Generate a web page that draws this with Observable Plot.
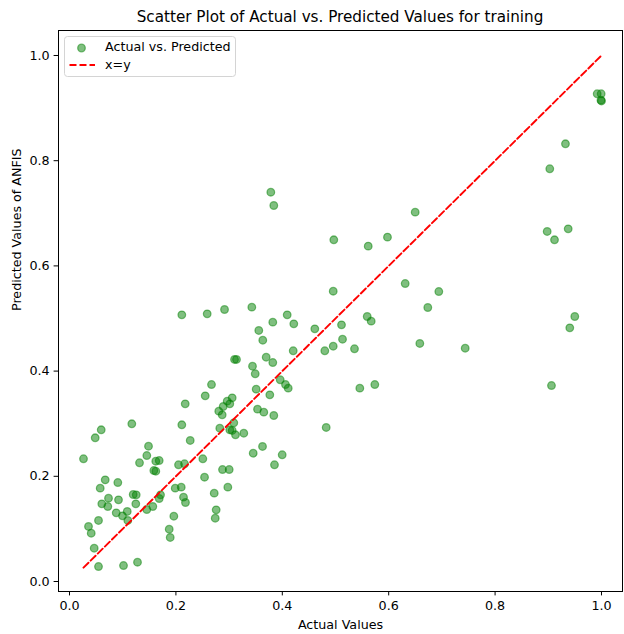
<!DOCTYPE html>
<html>
<head>
<meta charset="utf-8">
<script src="https://cdn.jsdelivr.net/npm/d3@7"></script>
<script src="https://cdn.jsdelivr.net/npm/@observablehq/plot@0.6"></script>
<style>
  body { margin: 0; background: white; }
  #wrap { position: relative; width: 624px; height: 634px; font-family: "DejaVu Sans", sans-serif; }
  #title { box-sizing: border-box; height: 26px; padding-top: 8px; padding-left: 58px; padding-right: 2px;
           text-align: center; font-size: 15.2px; line-height: 18px; color: #000; white-space: nowrap; }
  #legend { position: absolute; left: 64px; top: 36px; }
</style>
</head>
<body>
<div id="wrap">
  <div id="title">Scatter Plot of Actual vs. Predicted Values for training</div>
  <div id="chart"></div>
  <svg id="legend" width="173" height="42"></svg>
</div>
<script>
// Actual values (x)
const actualValues = [
  0.2175, 0.1171, 0.0596, 0.0483, 0.2111, 0.3088, 0.2825, 0.3013, 0.3058, 0.3120,
  0.3276, 0.2269, 0.1485, 0.1453, 0.0263, 0.1316, 0.1622, 0.1686, 0.1585, 0.1622,
  0.2049, 0.2162, 0.2506, 0.2876, 0.3002, 0.0671, 0.0908, 0.0577, 0.2538, 0.1987,
  0.2100, 0.2976, 0.2720, 0.1197, 0.1254, 0.0733, 0.0607, 0.0720, 0.0921, 0.1246,
  0.1711, 0.1686, 0.2143, 0.2180, 0.1566, 0.1453, 0.0878, 0.0996, 0.1085, 0.2757,
  0.2739, 0.1961, 0.0545, 0.1096, 0.0357, 0.0408, 0.1874, 0.1893, 0.0464, 0.0545,
  0.1015, 0.1278,
  0.4957, 0.2111, 0.2588, 0.2914, 0.3427, 0.4092, 0.3821, 0.4216, 0.3558, 0.3633,
  0.4611, 0.5113, 0.5132, 0.4957, 0.4799, 0.4205, 0.3102, 0.3139, 0.3697, 0.3821,
  0.3440, 0.3491, 0.2669, 0.2551, 0.3509, 0.3961, 0.4060, 0.4111, 0.3765, 0.3058,
  0.2964, 0.3013, 0.2889, 0.2806, 0.2870, 0.3534, 0.3652, 0.3840, 0.4825, 0.3628,
  0.3453, 0.3998, 0.3853,
  0.6498, 0.4968, 0.5615, 0.5977, 0.6310, 0.6942, 0.6735, 0.5596, 0.5671, 0.5357,
  0.6585, 0.7438, 0.5457, 0.5739, 0.3784, 0.3840,
  0.9919, 0.9994, 0.9990, 1.0000, 0.9323, 0.9028, 0.8979, 0.9374, 0.9117, 0.9498,
  0.9404, 0.9060
];
// Predicted values of ANFIS (y)
const predictedValues = [
  0.3378, 0.2998, 0.2884, 0.2732, 0.2979, 0.3017, 0.2914, 0.2884, 0.2871, 0.2789,
  0.2819, 0.2681, 0.2572, 0.2395, 0.2333, 0.2257, 0.2287, 0.2300, 0.2110, 0.2097,
  0.2219, 0.2238, 0.2333, 0.2129, 0.2129, 0.1933, 0.1882, 0.1774, 0.1983, 0.1774,
  0.1793, 0.1793, 0.1679, 0.1654, 0.1648, 0.1584, 0.1477, 0.1426, 0.1553, 0.1477,
  0.1648, 0.1578, 0.1603, 0.1502, 0.1426, 0.1369, 0.1306, 0.1249, 0.1331, 0.1363,
  0.1203, 0.1241, 0.1160, 0.1160, 0.1046, 0.0918, 0.0994, 0.0837, 0.0633, 0.0285,
  0.0304, 0.0367,
  0.5519, 0.5070, 0.5089, 0.5171, 0.5215, 0.5070, 0.4930, 0.4899, 0.4772, 0.4587,
  0.4804, 0.4880, 0.4606, 0.4473, 0.4386, 0.4386, 0.4221, 0.4221, 0.4264, 0.4163,
  0.4093, 0.3949, 0.3745, 0.3530, 0.3656, 0.3835, 0.3745, 0.3675, 0.3549, 0.3492,
  0.3428, 0.3378, 0.3327, 0.3238, 0.3169, 0.3276, 0.3219, 0.3156, 0.2928, 0.2567,
  0.2439, 0.2409, 0.2219,
  0.7021, 0.6496, 0.6375, 0.6546, 0.5665, 0.5513, 0.5209, 0.5038, 0.4949, 0.4424,
  0.4525, 0.4435, 0.3675, 0.3745, 0.7401, 0.7148,
  0.9272, 0.9272, 0.9150, 0.9135, 0.8321, 0.7846, 0.6654, 0.6705, 0.6496, 0.5038,
  0.4823, 0.3726
];
const xTicks = [0.0, 0.2, 0.4, 0.6, 0.8, 1.0];
const yTicks = [0.0, 0.2, 0.4, 0.6, 0.8, 1.0];
const xLabel = "Actual Values";
const yLabel = "Predicted Values of ANFIS";
const legendLabels = ["Actual vs. Predicted", "x=y"];

const points = actualValues.map((a, i) => ({actual: a, predicted: predictedValues[i]}));
const lo = d3.min(actualValues), hi = d3.max(actualValues);
const diag = [{v: lo}, {v: hi}];

const fmt = d3.format(".1f");
const chart = Plot.plot({
  width: 624,
  height: 608,
  marginLeft: 58,
  marginRight: 2,
  marginTop: 4,
  marginBottom: 43,
  style: {fontFamily: "DejaVu Sans, sans-serif", fontSize: "12.7px", color: "#000", background: "white", overflow: "visible"},
  x: {domain: [-0.0207, 1.0395]},
  y: {domain: [-0.019, 1.0475]},
  marks: [
    Plot.dot(points, {x: "actual", y: "predicted", r: 3.8, fill: "green", fillOpacity: 0.5,
                      stroke: "green", strokeOpacity: 0.5, strokeWidth: 1.26}),
    Plot.line(diag, {x: "v", y: "v", stroke: "#ff0000", strokeWidth: 1.9, strokeDasharray: "7,3"}),
    Plot.frame({stroke: "#000", strokeWidth: 1}),
    Plot.axisX({ticks: xTicks, tickFormat: fmt, tickSize: 4.4, tickPadding: 5, label: null, fontSize: 12.7}),
    Plot.axisY({ticks: yTicks, tickFormat: fmt, tickSize: 4.4, tickPadding: 4.4, label: null, fontSize: 12.7}),
    Plot.text([xLabel], {frameAnchor: "bottom", dy: 37, text: d => d, fontSize: 12.7}),
    Plot.text([yLabel], {frameAnchor: "left", dx: -42, rotate: -90, text: d => d, fontSize: 12.7})
  ]
});
document.getElementById("chart").appendChild(chart);

// Legend (matplotlib-style box in the upper left)
const lg = d3.select("#legend");
lg.append("rect").attr("x", 0.5).attr("y", 0.5).attr("width", 171).attr("height", 40)
  .attr("rx", 3).attr("fill", "white").attr("fill-opacity", 0.8).attr("stroke", "#d4d4d4");
lg.append("circle").attr("cx", 17.5).attr("cy", 12).attr("r", 3.8)
  .attr("fill", "green").attr("fill-opacity", 0.5).attr("stroke", "green").attr("stroke-opacity", 0.5).attr("stroke-width", 1.26);
lg.append("line").attr("x1", 5.5).attr("x2", 31).attr("y1", 29).attr("y2", 29)
  .attr("stroke", "#ff0000").attr("stroke-width", 1.9).attr("stroke-dasharray", "7,3");
lg.selectAll("text.lab").data(legendLabels).join("text").attr("class", "lab")
  .attr("x", 41).attr("y", (d, i) => i === 0 ? 11 : 28.5).attr("dy", "0.35em")
  .attr("font-family", "DejaVu Sans, sans-serif").attr("font-size", 12.7).attr("fill", "#000")
  .text(d => d);
</script>
</body>
</html>
